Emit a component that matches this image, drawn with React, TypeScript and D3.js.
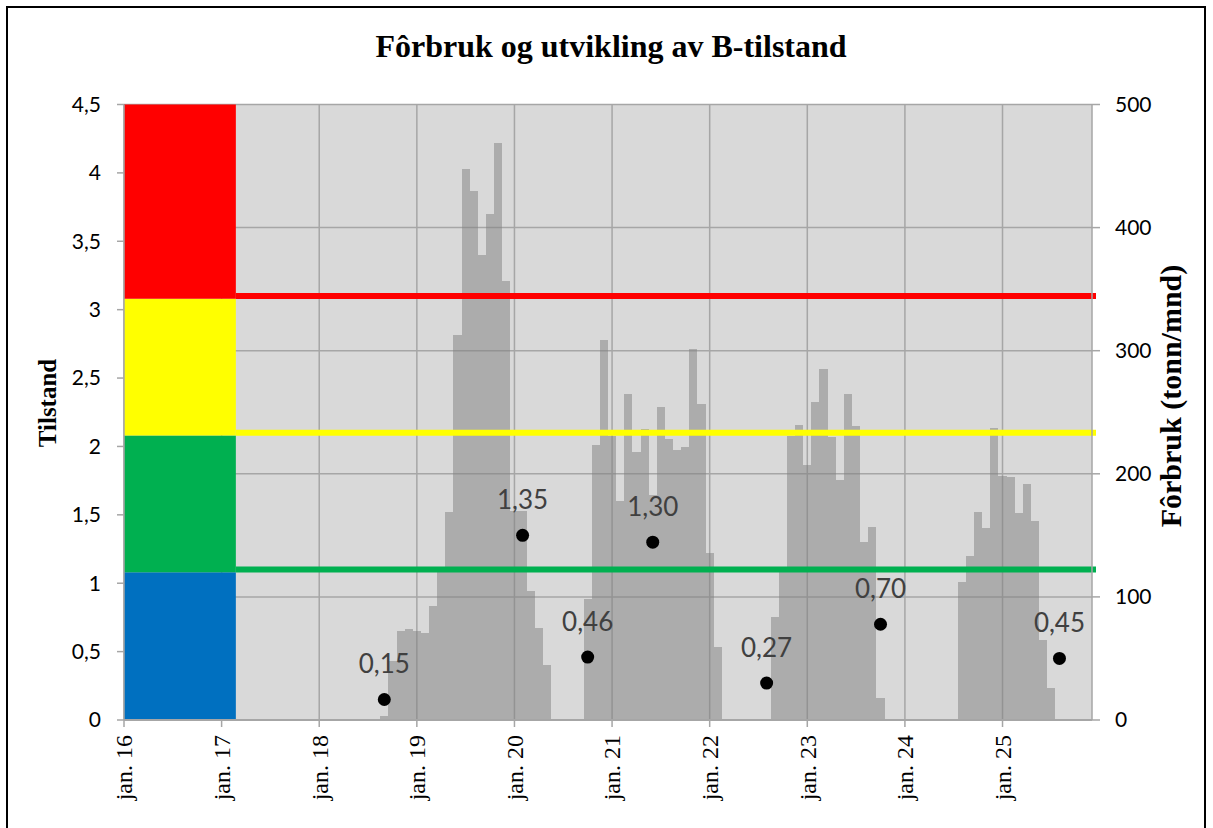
import * as d3 from "d3";

// monthly feed use (tonn/mnd), Jan..Dec per year
const years = [2016, 2017, 2018, 2019, 2020, 2021, 2022, 2023, 2024, 2025];
const feed2018 = [0, 0, 0, 0, 0, 0, 0, 0, 3, 48, 72, 74];
const feed2019 = [72, 71, 93, 120, 169, 313, 448, 430, 378, 411, 469, 357];
const feed2020 = [170, 170, 105, 75, 45, 0, 0, 0, 0, 98, 223, 309];
const feed2021 = [231, 178, 265, 218, 236, 183, 254, 228, 219, 222, 301, 257];
const feed2022 = [136, 59, 0, 0, 0, 0, 0, 1, 84, 120, 231, 240];
const feed2023 = [207, 258, 285, 230, 195, 265, 239, 145, 157, 18, 0, 0];
const feed2024 = [0, 0, 0, 0, 0, 0, 0, 112, 133, 169, 156, 237];
const feed2025 = [198, 197, 168, 192, 162, 65, 26, 0, 0, 0, 0, 0];

// B-tilstand samples
const sampleMonths = ["2018-09", "2020-02", "2020-10", "2021-06", "2022-08", "2023-10", "2025-08"];
const sampleValues = [0.15, 1.35, 0.46, 1.3, 0.27, 0.7, 0.45];

// condition classes
const bandLimits = [0, 1.08, 2.08, 3.08, 4.5];
const bandColors = ["#0070C0", "#00B050", "#FFFF00", "#FF0000"];
const bandEndMonth = 13.75;
const limitValues = [1.1, 2.1, 3.1];
const limitColors = ["#00B050", "#FFFF00", "#FF0000"];

const leftTicks = [0, 0.5, 1, 1.5, 2, 2.5, 3, 3.5, 4, 4.5];
const rightTicks = [0, 100, 200, 300, 400, 500];

const W = 1213;
const H = 828;
const plot = { left: 124, right: 1092, top: 104.5, bottom: 720 };

const fmt = (v: number, d: number) => v.toFixed(d).replace(".", ",");

const monthIndex = (s: string) => {
  const [y, m] = s.split("-").map(Number);
  return (y - years[0]) * 12 + (m - 1);
};

export default function App() {
  const feedYears: [number, number[]][] = [
    [2018, feed2018],
    [2019, feed2019],
    [2020, feed2020],
    [2021, feed2021],
    [2022, feed2022],
    [2023, feed2023],
    [2024, feed2024],
    [2025, feed2025],
  ];
  const feed = feedYears.flatMap(([y, vals]) =>
    vals.map((v, m) => ({ i: (y - years[0]) * 12 + m, v }))
  );

  const x = d3.scaleLinear().domain([0, years.length * 12 - 1]).range([plot.left, plot.right]);
  const yL = d3.scaleLinear().domain([0, 4.5]).range([plot.bottom, plot.top]);
  const yR = d3.scaleLinear().domain([0, 500]).range([plot.bottom, plot.top]);

  const grid = "#A6A6A6";
  const serif = "'Liberation Serif', 'Times New Roman', serif";
  const sans = "Lato, 'Liberation Sans', sans-serif";

  return (
    <svg
      width={W}
      height={H}
      style={{ position: "absolute", left: 0, top: 0, background: "#fff" }}
    >
      <rect x={7} y={7} width={1198} height={860} fill="#fff" stroke="#000" strokeWidth={2} />

      <text x={611} y={57} textAnchor="middle" fontFamily={serif} fontWeight="bold" fontSize={32}>
        Fôrbruk og utvikling av B-tilstand
      </text>

      {/* plot area */}
      <rect x={plot.left} y={plot.top} width={plot.right - plot.left} height={plot.bottom - plot.top} fill="#D9D9D9" />

      {/* gridlines */}
      {rightTicks.slice(1).map((t) => (
        <line key={"hg" + t} x1={plot.left} x2={plot.right} y1={yR(t)} y2={yR(t)} stroke={grid} strokeWidth={1.5} />
      ))}
      {years.map((yr, k) => (
        <line key={"vg" + yr} x1={x(k * 12)} x2={x(k * 12)} y1={plot.top} y2={plot.bottom} stroke={grid} strokeWidth={1.5} />
      ))}

      {/* condition bands */}
      {bandColors.map((c, k) => (
        <rect
          key={"band" + k}
          x={x(0)}
          y={yL(bandLimits[k + 1])}
          width={x(bandEndMonth) - x(0)}
          height={yL(bandLimits[k]) - yL(bandLimits[k + 1])}
          fill={c}
        />
      ))}

      {/* feed bars */}
      {feed
        .filter((d) => d.v > 0)
        .map((d) => (
          <rect
            key={"bar" + d.i}
            x={x(d.i - 0.5)}
            y={yR(d.v)}
            width={x(d.i + 0.5) - x(d.i - 0.5)}
            height={yR(0) - yR(d.v)}
            fill="#7F7F7F"
            fillOpacity={0.5}
            shapeRendering="crispEdges"
          />
        ))}

      {/* limit lines */}
      {limitValues.map((v, k) => (
        <line
          key={"lim" + v}
          x1={x(bandEndMonth)}
          x2={plot.right + 4}
          y1={yL(v)}
          y2={yL(v)}
          stroke={limitColors[k]}
          strokeWidth={6}
        />
      ))}

      {/* axes */}
      <line x1={plot.left} x2={plot.left} y1={plot.top} y2={plot.bottom} stroke={grid} strokeWidth={1.5} />
      <line x1={plot.right} x2={plot.right} y1={plot.top} y2={plot.bottom} stroke={grid} strokeWidth={1.5} />
      <line x1={plot.left} x2={plot.right} y1={plot.bottom} y2={plot.bottom} stroke={grid} strokeWidth={2} />

      {leftTicks.map((t) => (
        <g key={"lt" + t}>
          <line x1={plot.left - 7} x2={plot.left} y1={yL(t)} y2={yL(t)} stroke={grid} strokeWidth={1.5} />
          <text x={101} y={yL(t)} dy="0.35em" textAnchor="end" fontFamily={sans} fontSize={21} fill="#000">
            {t === 0 ? "0" : fmt(t, t % 1 === 0 ? 0 : 1)}
          </text>
        </g>
      ))}
      {rightTicks.map((t) => (
        <g key={"rt" + t}>
          <line x1={plot.right} x2={plot.right + 8} y1={yR(t)} y2={yR(t)} stroke={grid} strokeWidth={1.5} />
          <text x={1115} y={yR(t)} dy="0.35em" textAnchor="start" fontFamily={sans} fontSize={21} fill="#000">
            {t}
          </text>
        </g>
      ))}
      {years.map((yr, k) => (
        <g key={"xt" + yr}>
          <line x1={x(k * 12)} x2={x(k * 12)} y1={plot.bottom} y2={plot.bottom + 7} stroke={grid} strokeWidth={1.5} />
          <text
            transform={`translate(${x(k * 12)},${plot.bottom + 15}) rotate(-90)`}
            dy="0.35em"
            textAnchor="end"
            fontFamily={serif}
            fontSize={24}
          >
            {`jan. ${String(yr).slice(2)}`}
          </text>
        </g>
      ))}

      <text transform="translate(47,403) rotate(-90)" dy="0.35em" textAnchor="middle" fontFamily={serif} fontWeight="bold" fontSize={25}>
        Tilstand
      </text>
      <text transform="translate(1170,396) rotate(-90)" dy="0.35em" textAnchor="middle" fontFamily={serif} fontWeight="bold" fontSize={30}>
        Fôrbruk (tonn/mnd)
      </text>

      {/* samples */}
      {sampleMonths.map((m, k) => {
        const cx = x(monthIndex(m));
        const cy = yL(sampleValues[k]);
        return (
          <g key={"s" + m}>
            <circle cx={cx} cy={cy} r={6.5} fill="#000" />
            <text x={cx} y={cy - 26} textAnchor="middle" fontFamily={sans} fontSize={26} fill="#404040">
              {fmt(sampleValues[k], 2)}
            </text>
          </g>
        );
      })}
    </svg>
  );
}
